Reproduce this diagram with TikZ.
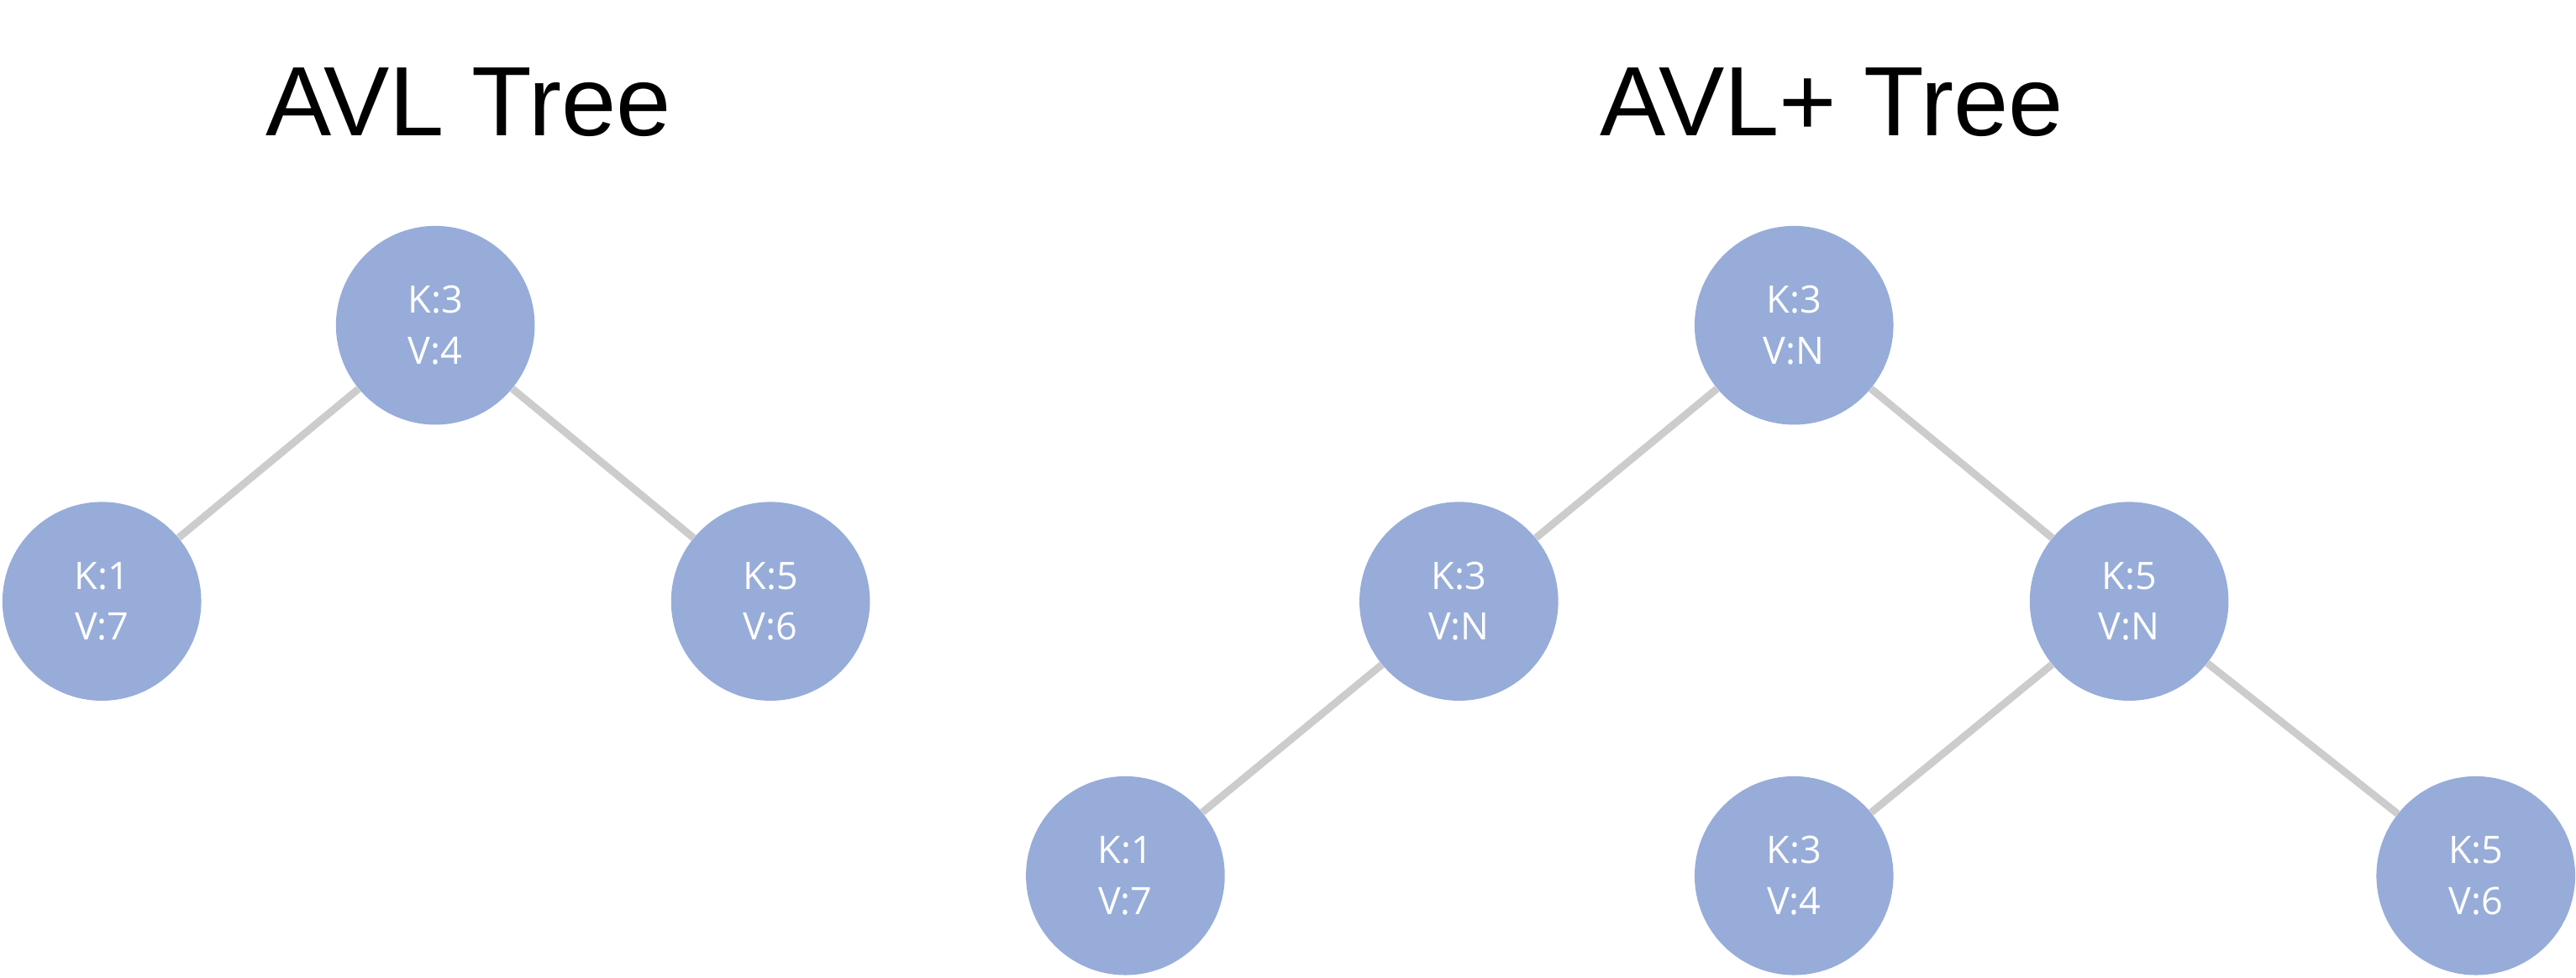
\documentclass[tikz,border=0pt]{standalone}
\usepackage{fontspec}
\setmainfont{Liberation Sans}
\newfontfamily\nodefont{Open Sans}
\definecolor{nodeblue}{HTML}{97ACD9}
\definecolor{edgegray}{HTML}{CCCCCC}
\begin{document}
\begin{tikzpicture}[x=1pt,y=-1pt,
  tn/.style={circle,fill=nodeblue,minimum size=121pt,inner sep=0pt,text=white,
    font=\nodefont\fontsize{23}{31}\selectfont,align=center},
  ed/.style={draw=edgegray,line width=4.5pt},
  title/.style={font=\fontsize{60}{70}\selectfont}]
\useasboundingbox (0,0) rectangle (1568,595);
\node[title] (t1) at (285,62) {AVL Tree};
\node[title] (t2) at (1115,62) {AVL+ Tree};
\node[tn] (a) at (265,198) {K:3\\V:4};
\node[tn] (b) at (62,366) {K:1\\V:7};
\node[tn] (c) at (469,366) {K:5\\V:6};
\node[tn] (r) at (1092,198) {K:3\\V:N};
\node[tn] (l) at (888,366) {K:3\\V:N};
\node[tn] (m) at (1296,366) {K:5\\V:N};
\node[tn] (x1) at (685,533) {K:1\\V:7};
\node[tn] (x2) at (1092,533) {K:3\\V:4};
\node[tn] (x3) at (1507,533) {K:5\\V:6};
\draw[ed] (a) -- (b); \draw[ed] (a) -- (c);
\draw[ed] (r) -- (l); \draw[ed] (r) -- (m);
\draw[ed] (l) -- (x1); \draw[ed] (m) -- (x2); \draw[ed] (m) -- (x3);
\end{tikzpicture}
\end{document}
